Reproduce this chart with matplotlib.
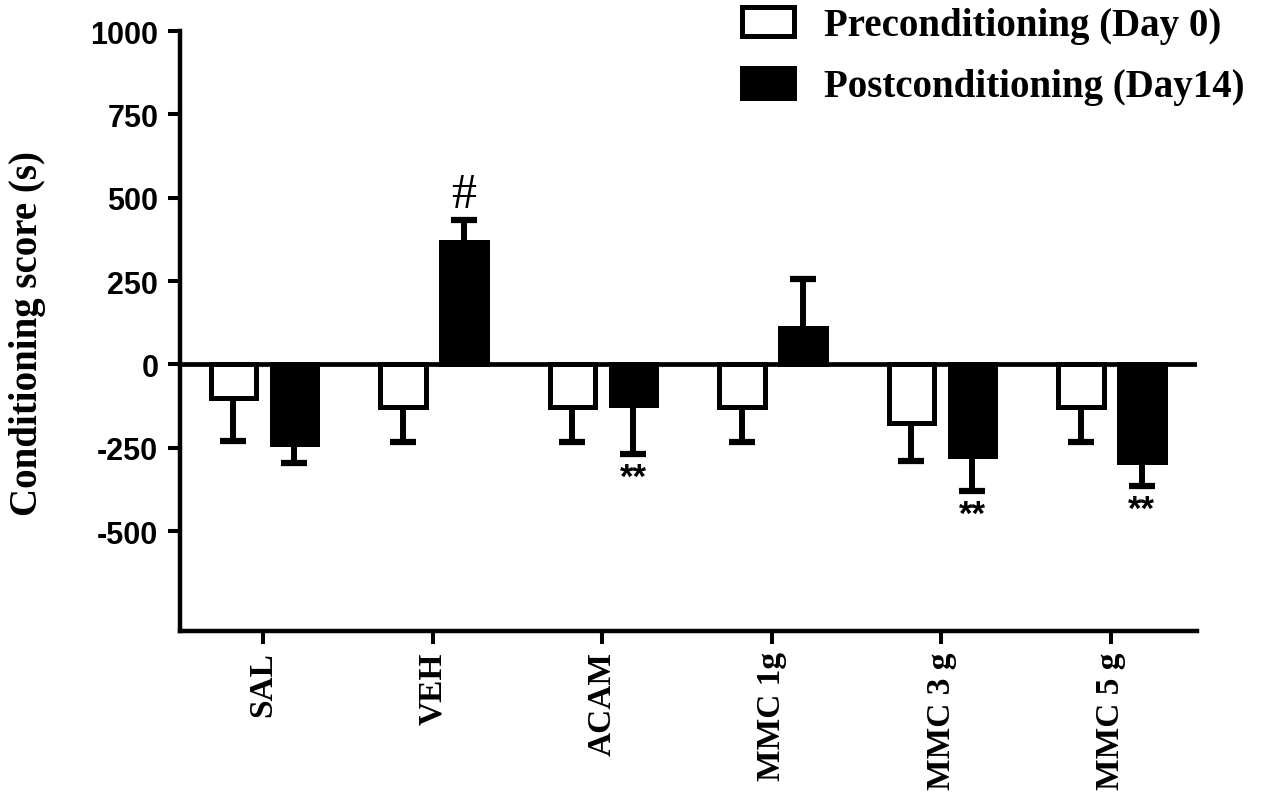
import matplotlib
matplotlib.use('Agg')
import matplotlib.pyplot as plt
import numpy as np

groups = ["SAL", "VEH", "ACAM", "MMC 1g", "MMC 3 g", "MMC 5 g"]
pre_vals = [-100, -128, -128, -128, -177, -128]
pre_err = [130, 105, 105, 105, 113, 105]
post_vals = [-240, 368, -123, 110, -276, -294]
post_err = [57, 65, 147, 145, 105, 70]
post_marks = ["", "#", "**", "", "**", "**"]
series_labels = ["Preconditioning (Day 0)", "Postconditioning (Day14)"]
yticks = [1000, 750, 500, 250, 0, -250, -500]
ytick_labels = ["1000", "750", "500", "250", "0", "-250", "-500"]
y_label = "Conditioning score (s)"

W, H = 1267, 803
fig = plt.figure(figsize=(W / 100, H / 100), dpi=100)
ax = fig.add_axes([180 / W, 1 - 632 / H, (1197 - 180) / W, 600 / H])

serif_b = dict(family='Liberation Serif', weight='bold')
sans_b = dict(family='Liberation Sans', weight='bold')

x = np.arange(len(groups))
bw = 0.27
edge = 3.6
ax.axhline(0, color='black', lw=3.4, zorder=1)
b1 = ax.bar(x - 0.175, pre_vals, bw, color='white', edgecolor='black',
            linewidth=edge, zorder=3)
b2 = ax.bar(x + 0.185, post_vals, bw, color='black', edgecolor='black',
            linewidth=edge, zorder=3)


def draw_err(xs, vals, errs):
    vals = np.asarray(vals, float)
    errs = np.asarray(errs, float)
    sign = np.where(vals >= 0, 1, -1)
    tips = vals + sign * errs
    ax.vlines(xs, vals, tips, color='black', lw=4.3, zorder=2)
    ax.plot(xs, tips, linestyle='none', marker='_', markersize=19,
            markeredgewidth=4.5, color='black', zorder=2)
    return tips, sign


draw_err(x - 0.175, pre_vals, pre_err)
tips, signs = draw_err(x + 0.185, post_vals, post_err)

for xi, t, s, m in zip(x + 0.185, tips, signs, post_marks):
    if not m:
        continue
    if s > 0:
        ax.annotate(m, (xi, t), xytext=(0, 9), textcoords='offset points',
                    ha='center', va='baseline', fontsize=36,
                    family='Liberation Serif')
    else:
        ax.annotate(m, (xi, t), xytext=(0, -5), textcoords='offset points',
                    ha='center', va='top', fontsize=25, **sans_b)

ax.set_xlim(-0.49, 5.51)
ax.set_ylim(-800, 1000)
ax.set_yticks(yticks)
ax.set_yticklabels(ytick_labels, fontsize=22, **sans_b)
ax.set_xticks(x)
ax.set_xticklabels(groups, rotation=90, fontsize=24, **serif_b)
ax.tick_params(axis='x', length=9, width=2.9, pad=5.5, direction='out')
ax.tick_params(axis='y', length=8.6, width=2.9, pad=7, direction='out')
for sp in ['top', 'right']:
    ax.spines[sp].set_visible(False)
for sp in ['left', 'bottom']:
    ax.spines[sp].set_linewidth(3.2)

fig.text(28 / W, 1 - 334 / H, y_label, rotation=90, ha='center', va='center',
         fontsize=28, **serif_b)

fig.legend([b1, b2], series_labels, loc='upper left',
           bbox_to_anchor=(742 / W, 1 - 8 / H), bbox_transform=fig.transFigure,
           frameon=False, prop=dict(size=28, **serif_b),
           handlelength=1.33, handleheight=0.78, handletextpad=0.78,
           labelspacing=0.62, borderpad=0, borderaxespad=0)

fig.savefig('out.png', dpi=100)
